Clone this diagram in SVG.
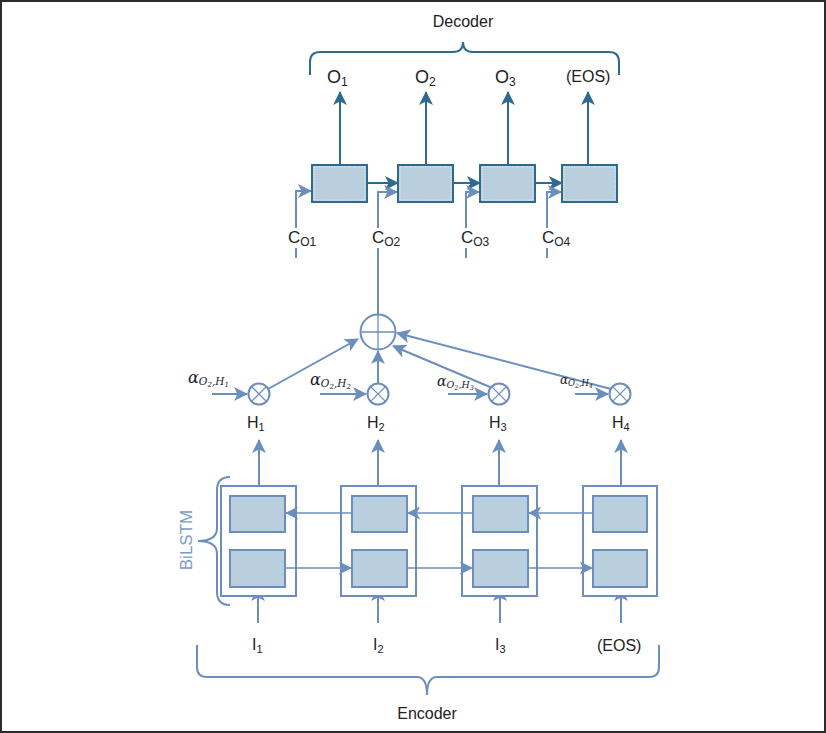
<svg xmlns="http://www.w3.org/2000/svg" width="826" height="733" viewBox="0 0 826 733">
<style>
text{font-family:"Liberation Sans",Arial,sans-serif;fill:#222}
.dk{stroke:#2e6a8e;fill:none;stroke-width:2}
.lb{stroke:#6c8ebf;fill:none;stroke-width:2}
.lbt{stroke:#6c8ebf;fill:none;stroke-width:1.3}
.dbox{fill:#b9cfde;stroke:#2e6a8e;stroke-width:2}
.ebox{fill:#b9cfde;stroke:#6c8ebf;stroke-width:2}
.cont{fill:#fff;stroke:#6c8ebf;stroke-width:2}
.inner{fill:none;stroke:#fff;stroke-width:0.8;stroke-dasharray:1 1.5;opacity:0.85}
.m{font-family:"DejaVu Serif",serif;font-style:italic;fill:#1a1a2a}
</style>
<defs>
<marker id="ad" viewBox="0 0 14 14" refX="13" refY="7" markerWidth="14" markerHeight="14" markerUnits="userSpaceOnUse" orient="auto">
<path d="M0,0 L14,7 L0,14 L3.5,7 z" fill="#2e6a8e"/>
</marker>
<marker id="al" viewBox="0 0 14 14" refX="13" refY="7" markerWidth="14" markerHeight="14" markerUnits="userSpaceOnUse" orient="auto">
<path d="M0,0 L14,7 L0,14 L3.5,7 z" fill="#6c8ebf"/>
</marker>
<marker id="als" viewBox="0 0 14 14" refX="13" refY="7" markerWidth="13" markerHeight="13" markerUnits="userSpaceOnUse" orient="auto">
<path d="M0,0 L14,7 L0,14 L3.5,7 z" fill="#6c8ebf"/>
</marker>
</defs>
<rect x="1" y="1" width="824" height="731" fill="#fff" stroke="#2b2b30" stroke-width="2"/>

<g id="decoder-brace">
<path class="dk" d="M310,75 V62 Q310,52 320,52 H453 Q463,52 463,42 Q463,52 473,52 H609 Q619,52 619,62 V75"/>
<text x="463" y="27" font-size="16" text-anchor="middle">Decoder</text>
</g>

<g id="connectors">
<path class="dk" d="M340,165 V92" marker-end="url(#ad)"/>
<path class="dk" d="M426,165 V92" marker-end="url(#ad)"/>
<path class="dk" d="M508,165 V92" marker-end="url(#ad)"/>
<path class="dk" d="M588,165 V92" marker-end="url(#ad)"/>
<path class="dk" d="M367,183 H398" marker-end="url(#ad)"/>
<path class="dk" d="M453,183 H480" marker-end="url(#ad)"/>
<path class="dk" d="M535,183 H562" marker-end="url(#ad)"/>
<path class="lb" d="M296,258 V191 H311" marker-end="url(#al)"/>
<path class="lb" d="M378,314 V192 H397" marker-end="url(#al)"/>
<path class="lb" d="M466,258 V192 H479" marker-end="url(#al)"/>
<path class="lb" d="M547,258 V192 H561" marker-end="url(#al)"/>
<path class="lb" d="M268,389 L358,339" marker-end="url(#al)"/>
<path class="lb" d="M378,383 V351" marker-end="url(#al)"/>
<path class="lb" d="M490,387 L393,346" marker-end="url(#al)"/>
<path class="lb" d="M611,389 L397,333" marker-end="url(#al)"/>
<path class="lb" d="M212,394 H247" marker-end="url(#al)"/>
<path class="lb" d="M320,394 H366" marker-end="url(#al)"/>
<path class="lb" d="M448,394 H487" marker-end="url(#al)"/>
<path class="lb" d="M575,394 H608" marker-end="url(#al)"/>
<path class="lb" d="M259,486 V440" marker-end="url(#al)"/>
<path class="lb" d="M378,486 V440" marker-end="url(#al)"/>
<path class="lb" d="M499,486 V440" marker-end="url(#al)"/>
<path class="lb" d="M621,486 V440" marker-end="url(#al)"/>
<path class="lb" d="M258,623 V588" marker-end="url(#al)"/>
<path class="lb" d="M378,623 V588" marker-end="url(#al)"/>
<path class="lb" d="M500,623 V588" marker-end="url(#al)"/>
<path class="lb" d="M621,623 V588" marker-end="url(#al)"/>
</g>

<g id="dec1"><rect class="dbox" x="312" y="165" width="55" height="37"/><rect class="inner" x="314" y="167" width="51" height="33"/></g>
<g id="dec2"><rect class="dbox" x="398" y="165" width="55" height="37"/><rect class="inner" x="400" y="167" width="51" height="33"/></g>
<g id="dec3"><rect class="dbox" x="480" y="165" width="55" height="37"/><rect class="inner" x="482" y="167" width="51" height="33"/></g>
<g id="dec4"><rect class="dbox" x="562" y="165" width="55" height="37"/><rect class="inner" x="564" y="167" width="51" height="33"/></g>

<g id="outputs">
<text x="327" y="83" font-size="18">O<tspan font-size="12" dy="3">1</tspan></text>
<text x="415" y="83" font-size="18">O<tspan font-size="12" dy="3">2</tspan></text>
<text x="495" y="83" font-size="18">O<tspan font-size="12" dy="3">3</tspan></text>
<text x="566" y="82" font-size="16">(EOS)</text>
</g>

<g id="context-labels">
<rect x="286" y="228" width="34" height="20" fill="#fff"/>
<text x="288" y="243" font-size="17">C<tspan font-size="12" dy="3">O1</tspan></text>
<rect x="371" y="228" width="34" height="20" fill="#fff"/>
<text x="372" y="243" font-size="17">C<tspan font-size="12" dy="3">O2</tspan></text>
<rect x="460" y="228" width="34" height="20" fill="#fff"/>
<text x="461" y="243" font-size="17">C<tspan font-size="12" dy="3">O3</tspan></text>
<rect x="541" y="228" width="34" height="20" fill="#fff"/>
<text x="542" y="243" font-size="17">C<tspan font-size="12" dy="3">O4</tspan></text>
</g>

<g id="sum">
<circle cx="378" cy="332" r="17.5" class="lb" fill="#fff"/>
<path class="lbt" d="M360.5,332 H395.5 M378,314.5 V349.5"/>
</g>

<g id="mul1"><circle cx="259" cy="394" r="10.5" class="lb" fill="#fff"/><path class="lbt" d="M251.6,386.6 L266.4,401.4 M266.4,386.6 L251.6,401.4"/></g>
<g id="mul2"><circle cx="378" cy="394" r="10.5" class="lb" fill="#fff"/><path class="lbt" d="M370.6,386.6 L385.4,401.4 M385.4,386.6 L370.6,401.4"/></g>
<g id="mul3"><circle cx="499" cy="394" r="10.5" class="lb" fill="#fff"/><path class="lbt" d="M491.6,386.6 L506.4,401.4 M506.4,386.6 L491.6,401.4"/></g>
<g id="mul4"><circle cx="620" cy="394" r="10.5" class="lb" fill="#fff"/><path class="lbt" d="M612.6,386.6 L627.4,401.4 M627.4,386.6 L612.6,401.4"/></g>

<g id="alphas">
<text class="m" x="188" y="383" font-size="16">α<tspan font-size="10.5" dy="2">O</tspan><tspan font-size="7" dy="2">2</tspan><tspan font-size="10.5" dy="-2">,H</tspan><tspan font-size="7" dy="2">1</tspan></text>
<text class="m" x="310" y="385" font-size="16">α<tspan font-size="10.5" dy="2">O</tspan><tspan font-size="7" dy="2">2</tspan><tspan font-size="10.5" dy="-2">,H</tspan><tspan font-size="7" dy="2">2</tspan></text>
<text class="m" x="437" y="386" font-size="14">α<tspan font-size="9.5" dy="2">O</tspan><tspan font-size="6.5" dy="2">2</tspan><tspan font-size="9.5" dy="-2">,H</tspan><tspan font-size="6.5" dy="2">3</tspan></text>
<text class="m" x="560" y="384" font-size="12">α<tspan font-size="8.5" dy="2">O</tspan><tspan font-size="6" dy="2">2</tspan><tspan font-size="8.5" dy="-2">,H</tspan><tspan font-size="6" dy="2">4</tspan></text>
</g>

<g id="hidden-labels">
<text x="247" y="428" font-size="16">H<tspan font-size="11" dy="3">1</tspan></text>
<text x="367" y="428" font-size="16">H<tspan font-size="11" dy="3">2</tspan></text>
<text x="489" y="428" font-size="16">H<tspan font-size="11" dy="3">3</tspan></text>
<text x="612" y="428" font-size="16">H<tspan font-size="11" dy="3">4</tspan></text>
</g>

<g id="enc1">
<rect class="cont" x="221" y="486" width="75" height="110"/>
<rect class="ebox" x="230" y="496" width="55" height="36"/>
<rect class="ebox" x="230" y="550" width="55" height="37"/>
</g>
<g id="enc2">
<rect class="cont" x="341" y="486" width="75" height="110"/>
<rect class="ebox" x="352" y="496" width="55" height="36"/>
<rect class="ebox" x="352" y="550" width="55" height="37"/>
</g>
<g id="enc3">
<rect class="cont" x="462" y="486" width="75" height="110"/>
<rect class="ebox" x="473" y="496" width="55" height="36"/>
<rect class="ebox" x="473" y="550" width="55" height="37"/>
</g>
<g id="enc4">
<rect class="cont" x="583" y="486" width="74" height="110"/>
<rect class="ebox" x="593" y="496" width="54" height="36"/>
<rect class="ebox" x="593" y="550" width="54" height="37"/>
</g>

<g id="bilstm-connectors">
<path class="lbt" d="M593,513 H529" marker-end="url(#als)"/>
<path class="lbt" d="M473,513 H408" marker-end="url(#als)"/>
<path class="lbt" d="M352,513 H286" marker-end="url(#als)"/>
<path class="lbt" stroke-width="1.6" d="M285,568 H351" marker-end="url(#als)"/>
<path class="lbt" stroke-width="1.6" d="M407,568 H472" marker-end="url(#als)"/>
<path class="lbt" stroke-width="1.6" d="M528,568 H592" marker-end="url(#als)"/>
</g>

<g id="bilstm-brace">
<path class="lb" stroke-width="1.6" d="M230,477 Q217,477 217,490 V528 Q217,541 198,541 Q217,541 217,554 V592 Q217,605 230,605"/>
<text x="0" y="0" font-size="17" text-anchor="middle" transform="translate(192,540) rotate(-90)" style="fill:#7a9ccc">BiLSTM</text>
</g>

<g id="inputs">
<text x="252" y="650" font-size="16">I<tspan font-size="11" dy="3">1</tspan></text>
<text x="373" y="650" font-size="16">I<tspan font-size="11" dy="3">2</tspan></text>
<text x="495" y="650" font-size="16">I<tspan font-size="11" dy="3">3</tspan></text>
<text x="597" y="651" font-size="16">(EOS)</text>
</g>

<g id="encoder-brace">
<path class="lb" stroke-width="1.6" d="M197,645 V667 Q197,677 207,677 H417 Q427,677 427,695 Q427,677 437,677 H649 Q659,677 659,667 V645"/>
<text x="427" y="719" font-size="16" text-anchor="middle">Encoder</text>
</g>
</svg>
